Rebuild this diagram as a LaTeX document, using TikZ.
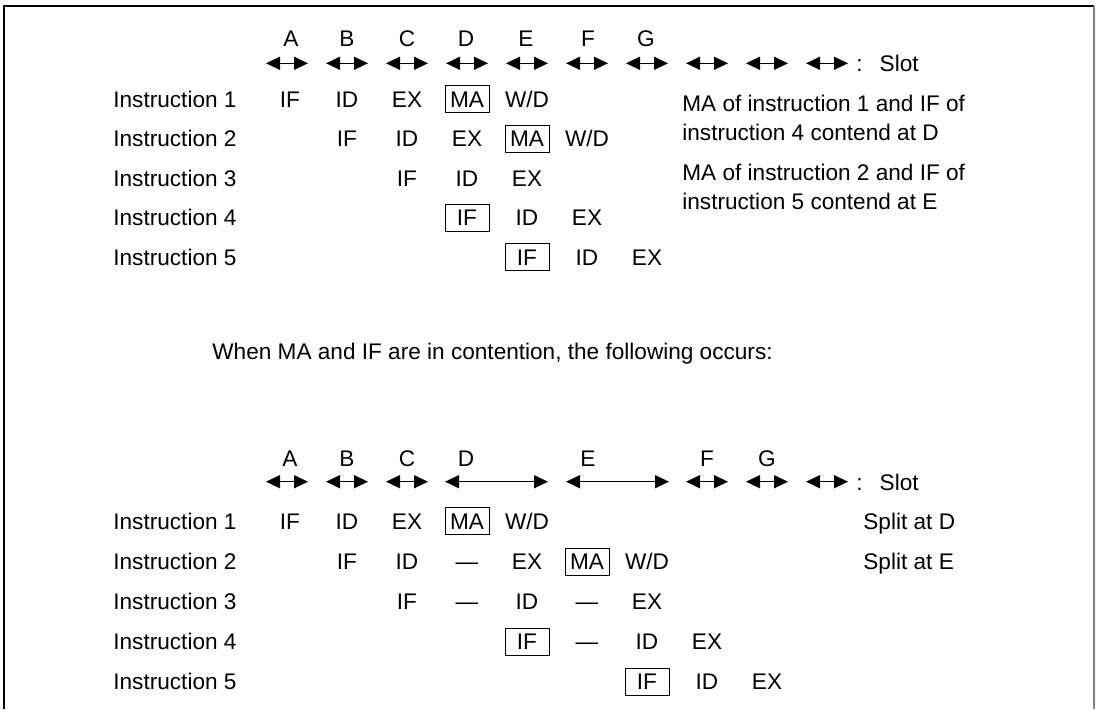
\documentclass[tikz,border=0pt]{standalone}
\usepackage{fontspec}
\setmainfont{Liberation Sans}
\usetikzlibrary{arrows.meta}

\begin{document}
\begin{tikzpicture}[x=0.5pt, y=-0.5pt,
		font=\fontsize{11.3pt}{14.25pt}\selectfont,
		stage/.style={inner sep=0pt, text height=8.1pt, text depth=0pt},
		stagebox/.style={stage, draw, line width=0.5pt, minimum width=22pt, minimum height=13.5pt},
		instr/.style={stage, anchor=west},
		note/.style={anchor=north west, inner sep=0pt, align=left},
		slot/.style={line width=0.7pt, {Triangle[length=7pt,width=6.5pt]}-{Triangle[length=7pt,width=6.5pt]}}]
			\useasboundingbox (0,0) rectangle (1098,709);
			% frame, open at the bottom
			\draw[line width=0.6pt] (4,709) -- (4,6) -- (1094,6);
			\draw[line width=0.6pt, gray] (1094,6) -- (1094,709);
			% upper diagram: slots
			\node[stage](tA) at (291,38.3){A};
			\node[stage](tB) at (347,38.3){B};
			\node[stage](tC) at (407,38.3){C};
			\node[stage](tD) at (466,38.3){D};
			\node[stage](tE) at (526,38.3){E};
			\node[stage](tF) at (588,38.3){F};
			\node[stage](tG) at (646,38.3){G};
			\coordinate (tAl) at (266,63.3); \coordinate (tAr) at (308,63.3);
			\coordinate (tBl) at (326,63.3); \coordinate (tBr) at (368,63.3);
			\coordinate (tCl) at (386,63.3); \coordinate (tCr) at (428,63.3);
			\coordinate (tDl) at (446,63.3); \coordinate (tDr) at (488,63.3);
			\coordinate (tEl) at (506,63.3); \coordinate (tEr) at (548,63.3);
			\coordinate (tFl) at (566,63.3); \coordinate (tFr) at (608,63.3);
			\coordinate (tGl) at (626,63.3); \coordinate (tGr) at (668,63.3);
			\coordinate (tHl) at (686,63.3); \coordinate (tHr) at (728,63.3);
			\coordinate (tIl) at (746,63.3); \coordinate (tIr) at (788,63.3);
			\coordinate (tJl) at (806,63.3); \coordinate (tJr) at (848,63.3);
			\draw[slot] (tAl) -- (tAr);
			\draw[slot] (tBl) -- (tBr);
			\draw[slot] (tCl) -- (tCr);
			\draw[slot] (tDl) -- (tDr);
			\draw[slot] (tEl) -- (tEr);
			\draw[slot] (tFl) -- (tFr);
			\draw[slot] (tGl) -- (tGr);
			\draw[slot] (tHl) -- (tHr);
			\draw[slot] (tIl) -- (tIr);
			\draw[slot] (tJl) -- (tJr);
			\node[instr](tslot) at (856,63.3){:\hspace{8.5pt}Slot};
			% upper diagram: instructions
			\node[instr](ti1) at (113,99){Instruction 1};
			\node[instr](ti2) at (113,138.5){Instruction 2};
			\node[instr](ti3) at (113,178){Instruction 3};
			\node[instr](ti4) at (113,217.5){Instruction 4};
			\node[instr](ti5) at (113,257){Instruction 5};
			\node[stage](t1A) at (290,99){IF};
			\node[stage](t1B) at (347,99){ID};
			\node[stage](t1C) at (407,99){EX};
			\node[stagebox](t1D) at (467,99){MA};
			\node[stage](t1E) at (527,99){W/D};
			\node[stage](t2B) at (347,138.5){IF};
			\node[stage](t2C) at (407,138.5){ID};
			\node[stage](t2D) at (467,138.5){EX};
			\node[stagebox](t2E) at (527,138.5){MA};
			\node[stage](t2F) at (587,138.5){W/D};
			\node[stage](t3C) at (407,178){IF};
			\node[stage](t3D) at (467,178){ID};
			\node[stage](t3E) at (527,178){EX};
			\node[stagebox](t4D) at (467,217.5){IF};
			\node[stage](t4E) at (527,217.5){ID};
			\node[stage](t4F) at (587,217.5){EX};
			\node[stagebox](t5E) at (527,257){IF};
			\node[stage](t5F) at (587,257){ID};
			\node[stage](t5G) at (647,257){EX};
			\node[note](tn1) at (682,95){MA of instruction 1 and IF of\\instruction 4 contend at D};
			\node[note](tn2) at (682,164){MA of instruction 2 and IF of\\instruction 5 contend at E};
			% middle sentence
			\node[instr](mid) at (212,351){When MA and IF are in contention, the following occurs:};
			% lower diagram: slots
			\node[stage](bA) at (290,458.3){A};
			\node[stage](bB) at (347,458.3){B};
			\node[stage](bC) at (407,458.3){C};
			\node[stage](bD) at (466,458.3){D};
			\node[stage](bE) at (588,458.3){E};
			\node[stage](bF) at (707,458.3){F};
			\node[stage](bG) at (767,458.3){G};
			\coordinate (bAl) at (266,481.7); \coordinate (bAr) at (308,481.7);
			\coordinate (bBl) at (326,481.7); \coordinate (bBr) at (368,481.7);
			\coordinate (bCl) at (386,481.7); \coordinate (bCr) at (428,481.7);
			\coordinate (bDl) at (445,481.7); \coordinate (bDr) at (548,481.7);
			\coordinate (bEl) at (566,481.7); \coordinate (bEr) at (669,481.7);
			\coordinate (bFl) at (686,481.7); \coordinate (bFr) at (728,481.7);
			\coordinate (bGl) at (746,481.7); \coordinate (bGr) at (788,481.7);
			\coordinate (bHl) at (806,481.7); \coordinate (bHr) at (848,481.7);
			\draw[slot] (bAl) -- (bAr);
			\draw[slot] (bBl) -- (bBr);
			\draw[slot] (bCl) -- (bCr);
			\draw[slot] (bDl) -- (bDr);
			\draw[slot] (bEl) -- (bEr);
			\draw[slot] (bFl) -- (bFr);
			\draw[slot] (bGl) -- (bGr);
			\draw[slot] (bHl) -- (bHr);
			\node[instr](bslot) at (856,482){:\hspace{8.5pt}Slot};
			% lower diagram: instructions
			\node[instr](bi1) at (113,521){Instruction 1};
			\node[instr](bi2) at (113,561.5){Instruction 2};
			\node[instr](bi3) at (113,601.5){Instruction 3};
			\node[instr](bi4) at (113,641.5){Instruction 4};
			\node[instr](bi5) at (113,681.5){Instruction 5};
			\node[stage](b1A) at (290,521){IF};
			\node[stage](b1B) at (347,521){ID};
			\node[stage](b1C) at (407,521){EX};
			\node[stagebox](b1D) at (467,521){MA};
			\node[stage](b1E) at (527,521){W/D};
			\node[instr](bs1) at (863,521){Split at D};
			\node[stage](b2B) at (347,561.5){IF};
			\node[stage](b2C) at (407,561.5){ID};
			\node[stage](b2D) at (467,561.5){\textemdash};
			\node[stage](b2E) at (527,561.5){EX};
			\node[stagebox](b2F) at (587,561.5){MA};
			\node[stage](b2G) at (647,561.5){W/D};
			\node[instr](bs2) at (863,561.5){Split at E};
			\node[stage](b3C) at (407,601.5){IF};
			\node[stage](b3D) at (467,601.5){\textemdash};
			\node[stage](b3E) at (527,601.5){ID};
			\node[stage](b3F) at (587,601.5){\textemdash};
			\node[stage](b3G) at (647,601.5){EX};
			\node[stagebox](b4E) at (527,641.5){IF};
			\node[stage](b4F) at (587,641.5){\textemdash};
			\node[stage](b4G) at (647,641.5){ID};
			\node[stage](b4H) at (707,641.5){EX};
			\node[stagebox](b5G) at (647,681.5){IF};
			\node[stage](b5H) at (707,681.5){ID};
			\node[stage](b5I) at (767,681.5){EX};
			\end{tikzpicture}
\end{document}
